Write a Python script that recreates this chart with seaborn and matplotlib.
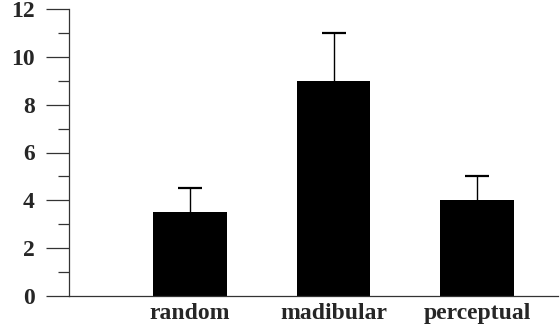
import numpy as np
import matplotlib.pyplot as plt
import pandas as pd
import seaborn as sns
from matplotlib.ticker import MultipleLocator

# Data
conditions = ['random', 'madibular', 'perceptual']
means = [3.5, 9.0, 4.0]
upper_err = [1.0, 2.0, 1.0]

df = pd.DataFrame({'condition': conditions, 'value': means})

sns.set_style('white')
plt.rcParams['font.family'] = ['Liberation Serif', 'DejaVu Serif']
plt.rcParams['font.weight'] = 'bold'

fig = plt.figure(figsize=(5.6, 3.29), dpi=100)
ax = fig.add_axes([69 / 560, 33 / 329, 489 / 560, 287 / 329])

sns.barplot(data=df, x='condition', y='value', order=conditions,
            color='black', saturation=1, width=0.51, errorbar=None,
            edgecolor='none', ax=ax)

# upper-only error bars: stem + cap at the top only
xpos = np.arange(len(conditions))
tops = np.array(means) + np.array(upper_err)
ax.errorbar(xpos, means, yerr=[np.zeros(len(conditions)), upper_err],
            fmt='none', ecolor='black', elinewidth=1.0, capsize=0)
ax.plot(xpos, tops, linestyle='none', marker='_', markersize=17,
        markeredgewidth=1.6, color='black')

ax.set_xlim(-0.843, 2.564)
ax.set_ylim(0, 12)
ax.yaxis.set_major_locator(MultipleLocator(2))
ax.yaxis.set_minor_locator(MultipleLocator(1))

for s in ['top', 'right']:
    ax.spines[s].set_visible(False)
for s in ['left', 'bottom']:
    ax.spines[s].set_color('#333333')
    ax.spines[s].set_linewidth(0.9)

ax.tick_params(axis='y', which='major', direction='out', length=16.5,
               width=0.9, color='#333333', pad=8, labelsize=17, left=True)
ax.tick_params(axis='y', which='minor', direction='out', length=8,
               width=0.9, color='#333333', left=True)
ax.tick_params(axis='x', length=0, pad=5, labelsize=17)

for lab in ax.get_xticklabels() + ax.get_yticklabels():
    lab.set_fontweight('bold')

ax.set_xlabel('')
ax.set_ylabel('')

plt.savefig('out.png', dpi=100)
